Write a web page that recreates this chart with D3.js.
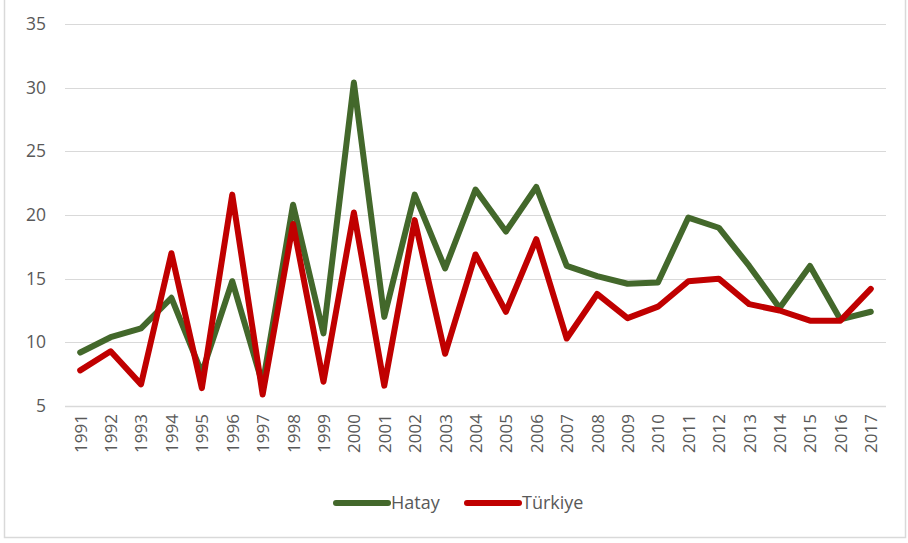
<!DOCTYPE html>
<html>
<head>
<meta charset="utf-8">
<script src="https://cdn.jsdelivr.net/npm/d3@7"></script>
<style>
  body { margin: 0; background: #fff; }
  text { font-family: "Open Sans", "Liberation Sans", sans-serif; fill: #595959; }
</style>
</head>
<body>
<div id="chart-area"></div>
<script>
// data
var years = ["1991","1992","1993","1994","1995","1996","1997","1998","1999","2000",
  "2001","2002","2003","2004","2005","2006","2007","2008","2009","2010",
  "2011","2012","2013","2014","2015","2016","2017"];
var hatay = [9.2, 10.4, 11.1, 13.5, 7.6, 14.8, 6.7, 20.8, 10.7, 30.4,
  12.0, 21.6, 15.8, 22.0, 18.7, 22.2, 16.0, 15.2, 14.6, 14.7,
  19.8, 19.0, 16.0, 12.7, 16.0, 11.8, 12.4];
var turkiye = [7.8, 9.3, 6.7, 17.0, 6.4, 21.6, 5.9, 19.3, 6.9, 20.2,
  6.6, 19.6, 9.1, 16.9, 12.4, 18.1, 10.3, 13.8, 11.9, 12.8,
  14.8, 15.0, 13.0, 12.5, 11.7, 11.7, 14.2];
var yTicks = [5, 10, 15, 20, 25, 30, 35];
var seriesNames = ["Hatay", "Türkiye"];
var seriesColors = ["#43682b", "#c00000"];

var W = 908, H = 543;
var margin = { left: 65, right: 22, top: 24, bottom: 137 };
var width = W - margin.left - margin.right,
    height = H - margin.top - margin.bottom;

var svg = d3.select("#chart-area").append("svg")
    .attr("width", W)
    .attr("height", H);

// chart border
svg.append("rect")
    .attr("x", 4.5).attr("y", -1.5)
    .attr("width", 901).attr("height", 539)
    .attr("fill", "none")
    .attr("stroke", "#d9d9d9")
    .attr("stroke-width", 1.5);

var g = svg.append("g")
    .attr("transform", "translate(" + margin.left + "," + margin.top + ")");

var x = d3.scalePoint().domain(years).range([0, width]).padding(0.5);
var y = d3.scaleLinear().domain([5, 35]).range([height, 0]);

// gridlines
g.append("g").selectAll("line")
    .data(yTicks)
    .enter().append("line")
    .attr("x1", 0).attr("x2", width)
    .attr("y1", function(d) { return Math.round(y(d)) + 0.5; })
    .attr("y2", function(d) { return Math.round(y(d)) + 0.5; })
    .attr("stroke", "#d9d9d9")
    .attr("stroke-width", function(d) { return d === 5 ? 1.5 : 1; });

// y axis labels
var yAxis = g.append("g")
    .call(d3.axisLeft(y).tickValues(yTicks).tickSize(0).tickPadding(19));
yAxis.select(".domain").remove();
yAxis.selectAll("text")
    .style("font-size", "17.5px")
    .attr("fill", "#595959");

// x axis labels
var xAxis = g.append("g")
    .attr("transform", "translate(0," + height + ")")
    .call(d3.axisBottom(x).tickSize(0));
xAxis.select(".domain").remove();
xAxis.selectAll("text")
    .style("font-size", "17px")
    .attr("fill", "#595959")
    .attr("transform", "rotate(-90)")
    .attr("text-anchor", "end")
    .attr("x", -8)
    .attr("y", 0)
    .attr("dy", "0.35em");

// lines
var line = d3.line()
    .x(function(d, i) { return x(years[i]); })
    .y(function(d) { return y(d); });

[hatay, turkiye].forEach(function(vals, k) {
  g.append("path")
      .attr("d", line(vals))
      .attr("fill", "none")
      .attr("stroke", seriesColors[k])
      .attr("stroke-width", 6)
      .attr("stroke-linejoin", "round")
      .attr("stroke-linecap", "round");
});

// legend
var legend = svg.append("g").attr("transform", "translate(336,503)");
var legX = [0, 131];
seriesNames.forEach(function(name, k) {
  var lg = legend.append("g").attr("transform", "translate(" + legX[k] + ",0)");
  lg.append("line")
      .attr("x1", 0).attr("x2", 52)
      .attr("stroke", seriesColors[k])
      .attr("stroke-width", 6)
      .attr("stroke-linecap", "round");
  lg.append("text")
      .attr("x", 55)
      .attr("dy", "0.35em")
      .style("font-size", "18px")
      .text(name);
});
</script>
</body>
</html>
